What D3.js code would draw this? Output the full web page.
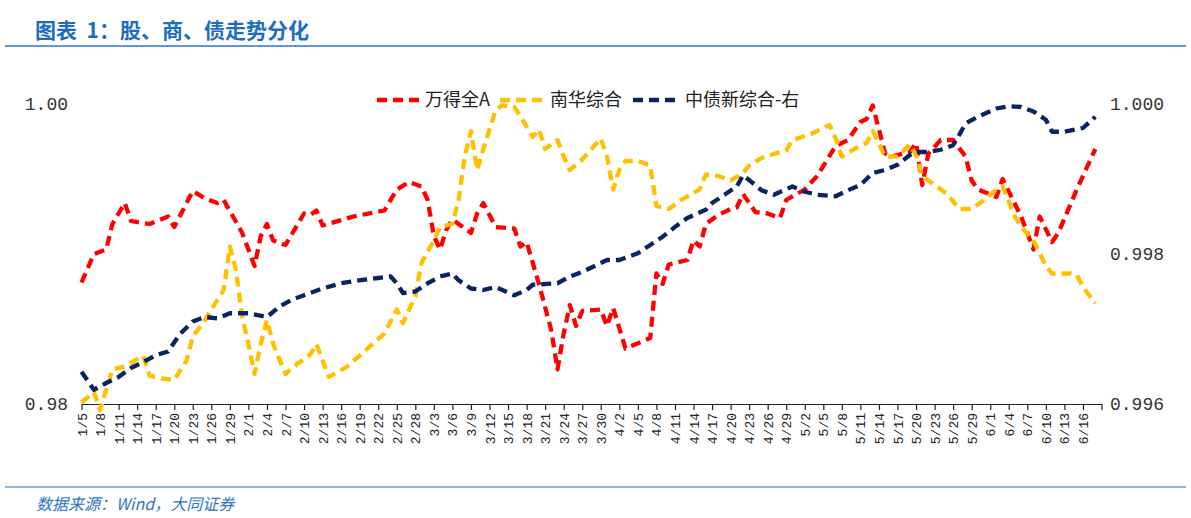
<!DOCTYPE html>
<html><head><meta charset="utf-8">
<script src="https://cdn.jsdelivr.net/npm/d3@7"></script>
<style>body{margin:0;background:#fff}svg{display:block}</style>
</head><body>
<svg id="chart" width="1191" height="518"></svg>
<script>
const title = "图表 1：股、商、债走势分化";
const source = "数据来源：Wind，大同证券";
const seriesNames = ["万得全A", "南华综合", "中债新综合-右"];
const seriesColors = ["#FF0000", "#FFC000", "#0A2463"];

const xTickLabels = ["1/5","1/8","1/11","1/14","1/17","1/20","1/23","1/26","1/29","2/1","2/4","2/7","2/10","2/13","2/16","2/19","2/22","2/25","2/28","3/3","3/6","3/9","3/12","3/15","3/18","3/21","3/24","3/27","3/30","4/2","4/5","4/8","4/11","4/14","4/17","4/20","4/23","4/26","4/29","5/2","5/5","5/8","5/11","5/14","5/17","5/20","5/23","5/26","5/29","6/1","6/4","6/7","6/10","6/13","6/16"];
const axisEndDate = "6/19";
const leftTicks = [0.98, 1.00];
const rightTicks = [0.996, 0.998, 1.000];

const redDates = ["1/5","1/7","1/9","1/10","1/12","1/13","1/16","1/19","1/20","1/23","1/25","1/27","1/28","1/31","2/2","2/3","2/4","2/5","2/7","2/10","2/11","2/12","2/13","2/18","2/23","2/25","2/27","3/1","3/2","3/3","3/4","3/5","3/6","3/9","3/10","3/11","3/13","3/16","3/17","3/18","3/20","3/22","3/23","3/24","3/25","3/26","3/27","3/30","3/31","4/1","4/3","4/7","4/8","4/9","4/10","4/13","4/14","4/15","4/16","4/18","4/20","4/21","4/22","4/24","4/26","4/28","4/29","5/2","5/4","5/7","5/9","5/11","5/12","5/13","5/15","5/16","5/19","5/20","5/21","5/22","5/24","5/26","5/28","5/29","5/30","6/2","6/3","6/6","6/8","6/9","6/11","6/12","6/15","6/18"];
const redValues = [0.9881,0.9900,0.9903,0.9920,0.9934,0.9922,0.9920,0.9925,0.9918,0.9942,0.9937,0.9934,0.9936,0.9914,0.9892,0.9912,0.9920,0.9909,0.9906,0.9927,0.9926,0.9929,0.9919,0.9925,0.9929,0.9943,0.9948,0.9945,0.9936,0.9912,0.9903,0.9916,0.9923,0.9914,0.9927,0.9934,0.9918,0.9917,0.9905,0.9908,0.9880,0.9849,0.9823,0.9847,0.9866,0.9852,0.9862,0.9863,0.9852,0.9864,0.9837,0.9844,0.9887,0.9880,0.9893,0.9896,0.9909,0.9905,0.9920,0.9926,0.9930,0.9931,0.9940,0.9928,0.9927,0.9924,0.9936,0.9943,0.9952,0.9972,0.9976,0.9988,0.9990,0.9999,0.9967,0.9965,0.9968,0.9974,0.9946,0.9967,0.9976,0.9976,0.9965,0.9949,0.9943,0.9938,0.9950,0.9925,0.9903,0.9925,0.9908,0.9914,0.9943,0.9970];

const yellowDates = ["1/5","1/7","1/8","1/10","1/12","1/14","1/15","1/16","1/18","1/20","1/22","1/23","1/25","1/26","1/28","1/29","1/30","1/31","2/1","2/2","2/3","2/4","2/5","2/7","2/9","2/11","2/12","2/14","2/17","2/20","2/23","2/25","2/26","2/28","3/1","3/3","3/4","3/6","3/7","3/8","3/9","3/10","3/11","3/13","3/14","3/16","3/17","3/19","3/20","3/21","3/23","3/24","3/25","3/27","3/30","3/31","4/1","4/2","4/3","4/5","4/7","4/8","4/10","4/12","4/15","4/16","4/18","4/20","4/22","4/23","4/25","4/28","4/29","4/30","5/3","5/6","5/7","5/8","5/10","5/12","5/13","5/15","5/17","5/19","5/20","5/21","5/23","5/25","5/27","5/29","5/31","6/2","6/3","6/5","6/6","6/8","6/10","6/11","6/14","6/15","6/16","6/18"];
const yellowValues = [0.9801,0.9808,0.9796,0.9823,0.9825,0.9830,0.9832,0.9819,0.9817,0.9816,0.9829,0.9845,0.9856,0.9863,0.9876,0.9905,0.9889,0.9858,0.9840,0.9820,0.9840,0.9856,0.9840,0.9820,0.9827,0.9833,0.9840,0.9818,0.9825,0.9836,0.9847,0.9863,0.9854,0.9872,0.9894,0.9909,0.9918,0.9920,0.9936,0.9965,0.9982,0.9956,0.9970,0.9996,0.9999,0.9998,0.9992,0.9978,0.9983,0.9970,0.9976,0.9965,0.9956,0.9963,0.9977,0.9965,0.9943,0.9956,0.9962,0.9962,0.9959,0.9932,0.9930,0.9936,0.9943,0.9953,0.9952,0.9949,0.9954,0.9959,0.9964,0.9968,0.9969,0.9976,0.9980,0.9986,0.9977,0.9965,0.9970,0.9974,0.9982,0.9965,0.9965,0.9973,0.9966,0.9952,0.9946,0.9940,0.9930,0.9930,0.9936,0.9943,0.9945,0.9925,0.9918,0.9909,0.9892,0.9887,0.9887,0.9886,0.9878,0.9867];

const blueDates = ["1/5","1/7","1/9","1/11","1/13","1/15","1/17","1/19","1/21","1/23","1/25","1/27","1/29","2/1","2/4","2/6","2/8","2/10","2/13","2/16","2/19","2/22","2/24","2/25","2/26","2/28","3/2","3/4","3/6","3/7","3/9","3/11","3/13","3/16","3/18","3/19","3/23","3/25","3/27","3/30","3/31","4/2","4/5","4/7","4/9","4/11","4/13","4/16","4/17","4/19","4/21","4/22","4/24","4/25","4/27","4/30","5/2","5/4","5/7","5/9","5/11","5/13","5/15","5/17","5/19","5/20","5/22","5/24","5/26","5/27","5/28","5/30","6/2","6/4","6/6","6/8","6/10","6/11","6/13","6/16","6/18"];
const blueValues = [0.99643,0.99619,0.99628,0.99636,0.99648,0.99656,0.99665,0.99670,0.99694,0.99710,0.99716,0.99714,0.99721,0.99721,0.99716,0.99730,0.99739,0.99745,0.99754,0.99761,0.99765,0.99768,0.99770,0.99761,0.99748,0.99750,0.99761,0.99770,0.99774,0.99765,0.99754,0.99752,0.99756,0.99745,0.99752,0.99759,0.99761,0.99770,0.99776,0.99788,0.99792,0.99792,0.99801,0.99812,0.99823,0.99836,0.99848,0.99859,0.99868,0.99879,0.99890,0.99905,0.99892,0.99885,0.99879,0.99890,0.99883,0.99879,0.99877,0.99885,0.99892,0.99908,0.99912,0.99919,0.99932,0.99936,0.99936,0.99939,0.99945,0.99959,0.99974,0.99983,0.99994,0.99997,0.99996,0.99990,0.99979,0.99963,0.99963,0.99968,0.99983];

// ---- helpers ----
const parse = d3.timeParse("%Y/%m/%d");
const origin = parse("2021/1/5");
const dayIndex = s => d3.timeDay.count(origin, parse("2021/" + s));
const zip = (ds, vs) => ds.map((d, i) => ({d: dayIndex(d), v: vs[i]}));

const svg = d3.select("#chart");
svg.append("rect").attr("width", 1191).attr("height", 518).attr("fill", "#fff");

// title & frame lines
svg.append("text").attr("x", 35).attr("y", 38)
  .attr("font-family", "'Noto Sans CJK SC', sans-serif").attr("font-weight", "bold")
  .attr("font-size", 21).attr("fill", "#1C6DC2").attr("xml:space", "preserve")
  .style("white-space", "pre").text(title.replace(" ", "  "));
svg.append("line").attr("x1", 5).attr("x2", 1186).attr("y1", 46).attr("y2", 46)
  .attr("stroke", "#5B9BD5").attr("stroke-width", 2);
svg.append("line").attr("x1", 5).attr("x2", 1186).attr("y1", 487).attr("y2", 487)
  .attr("stroke", "#5B9BD5").attr("stroke-width", 1.5);
svg.append("text").attr("x", 36).attr("y", 510)
  .attr("font-family", "'Noto Sans CJK SC', sans-serif").attr("font-style", "italic")
  .attr("font-size", 16).attr("fill", "#2E75C4").text(source);

// scales
const endDay = dayIndex(axisEndDate);
const x = d3.scaleLinear().domain([0, endDay]).range([81.5, 1101.5]);
const yL = d3.scaleLinear().domain([0.98, 1.00]).range([404, 104]);
const yR = d3.scaleLinear().domain([0.996, 1.000]).range([404, 104]);

// x axis: ticks + labels on tick marks every 3 days
const labelByDay = new Map(xTickLabels.map(l => [dayIndex(l), l]));
const gx = svg.append("g").attr("transform", "translate(0,404)");
gx.call(d3.axisBottom(x).tickValues(d3.range(0, endDay + 1, 3)).tickSize(6).tickSizeOuter(0)
  .tickFormat(d => labelByDay.get(d) || ""));
gx.selectAll("path,line").attr("stroke", "#222").attr("stroke-width", 1.2);
gx.selectAll("text")
  .attr("font-family", "'Liberation Mono', monospace").attr("font-size", 13).attr("fill", "#222")
  .attr("text-anchor", "end").attr("dy", "0.35em")
  .attr("transform", "translate(0,9) rotate(-90)")
  .attr("x", 0).attr("y", 0);

// y axes
const gyl = svg.append("g").attr("transform", "translate(81,0)");
gyl.call(d3.axisLeft(yL).tickValues(leftTicks).tickSize(0).tickPadding(13).tickFormat(d3.format(".2f")));
gyl.select(".domain").remove();
gyl.selectAll("text").attr("font-family", "'Liberation Mono', monospace").attr("font-size", 18).attr("fill", "#333");

const gyr = svg.append("g").attr("transform", "translate(1101,0)");
gyr.call(d3.axisRight(yR).tickValues(rightTicks).tickSize(0).tickPadding(9).tickFormat(d3.format(".3f")));
gyr.select(".domain").remove();
gyr.selectAll("text").attr("font-family", "'Liberation Mono', monospace").attr("font-size", 18).attr("fill", "#333");

// lines
const series = [
  {data: zip(redDates, redValues), y: yL, color: seriesColors[0]},
  {data: zip(yellowDates, yellowValues), y: yL, color: seriesColors[1]},
  {data: zip(blueDates, blueValues), y: yR, color: seriesColors[2]}
];
series.forEach(s => {
  const line = d3.line().x(p => x(p.d)).y(p => s.y(p.v));
  svg.append("path").datum(s.data).attr("d", line)
    .attr("fill", "none").attr("stroke", s.color).attr("stroke-width", 4.3)
    .attr("stroke-dasharray", "10,6").attr("stroke-linejoin", "round");
});

// legend
const legSample = [377, 500, 633];
const legText = [425, 550, 685];
seriesNames.forEach((n, i) => {
  svg.append("line").attr("x1", legSample[i]).attr("x2", legSample[i] + 42)
    .attr("y1", 100).attr("y2", 100).attr("stroke", seriesColors[i])
    .attr("stroke-width", 4.3).attr("stroke-dasharray", "10,6");
  svg.append("text").attr("x", legText[i]).attr("y", 100).attr("dy", "0.36em")
    .attr("font-family", "'Noto Sans CJK SC', sans-serif").attr("font-size", 18)
    .attr("fill", "#222").text(n);
});
</script>
</body></html>
